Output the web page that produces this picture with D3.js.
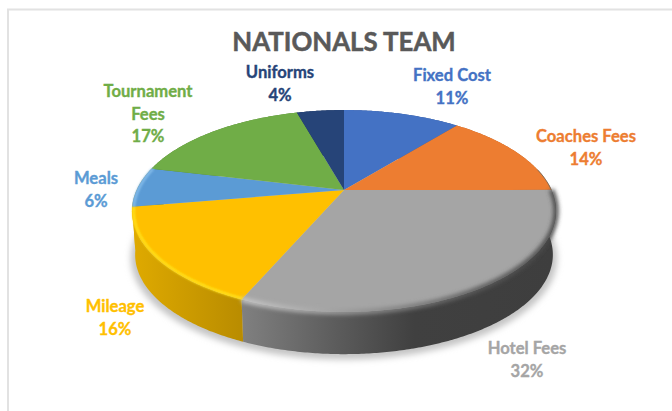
<!DOCTYPE html>
<html>
<head>
<meta charset="utf-8">
<script src="https://cdnjs.cloudflare.com/ajax/libs/d3/7.8.5/d3.min.js"></script>
<style>
  html, body { margin: 0; padding: 0; background: #fff; }
  svg { display: block; }
  text { font-family: Lato, "Open Sans", sans-serif; font-weight: 700; text-anchor: middle; }
</style>
</head>
<body>
<script>
const title = "NATIONALS TEAM"
const categories = ["Fixed Cost", "Coaches Fees", "Hotel Fees", "Mileage", "Meals", "Tournament Fees", "Uniforms"]
const shares = [10.9, 14.1, 31.6, 15.8, 6.4, 16.9, 4.4]
const colors = ["#4472C4", "#ED7D31", "#A5A5A5", "#FFC000", "#5B9BD5", "#70AD47", "#264478"]

const width = 672
const height = 411

const svg = d3.select("body").append("svg")
  .attr("width", width)
  .attr("height", height)

const defs = svg.append("defs")

defs.append("filter").attr("id", "shadow")
  .attr("x", "-10%").attr("y", "-10%").attr("width", "120%").attr("height", "120%")
  .append("feGaussianBlur").attr("stdDeviation", 3)

defs.append("filter").attr("id", "soft")
  .attr("x", "-5%").attr("y", "-5%").attr("width", "110%").attr("height", "110%")
  .append("feGaussianBlur").attr("stdDeviation", 1.3)

defs.append("filter").attr("id", "softer")
  .attr("filterUnits", "userSpaceOnUse")
  .attr("x", 0).attr("y", 0).attr("width", width).attr("height", height)
  .append("feGaussianBlur").attr("stdDeviation", 2)

function gradient(id, x1, x2, stops) {
  const g = defs.append("linearGradient")
    .attr("id", id)
    .attr("gradientUnits", "userSpaceOnUse")
    .attr("x1", x1).attr("x2", x2).attr("y1", 0).attr("y2", 0)
  stops.forEach(s => g.append("stop").attr("offset", s[0]).attr("stop-color", s[1]))
}

// side wall shading
gradient("wallYellow", 132, 242, [[0, "#dfaa00"], [1, "#b98c00"]])
gradient("wallGrey", 242, 555, [[0, "#808080"], [0.3, "#5c5c5c"], [0.55, "#404040"], [1, "#3e3e3e"]])
// rim highlight on the top face
gradient("rimGrey", 242, 555, [[0, "#c8c8c8"], [0.25, "#a8a8a8"], [0.5, "#808080"], [0.75, "#5a5a5a"], [1, "#484848"]])

// meals is barely visible on the wall, the reference shows yellow there
const wallFill = {"Mileage": "url(#wallYellow)", "Meals": "url(#wallYellow)", "Hotel Fees": "url(#wallGrey)"}

// the pie is a tilted disc: a circle seen in perspective, so the apex sits above the ellipse centre
const cx = 344, cy = 190
const rimX = 207.4, rimY = 96.6, tilt = 0.208
const wallDrop = 44, wallScale = 0.985

const xPos = d3.scaleLinear().domain([-1, 1]).range([cx - rimX, cx + rimX])
const yPos = d3.scaleLinear().domain([-1, 1]).range([cy + rimY, cy - rimY])

function project(angle, s = 1, drop = 0) {
  const u = Math.sin(angle) * s
  const v = Math.cos(angle) * s
  const den = 1 + tilt * Math.cos(angle)
  return [xPos(u / den), yPos(v / den) + drop]
}

function arcPoints(a0, a1, s, drop) {
  const n = Math.max(2, Math.ceil((a1 - a0) / 0.01))
  return d3.range(n + 1).map(i => project(a0 + (a1 - a0) * i / n, s, drop))
}

const line = d3.line()
const pie = d3.pie().sort(null).value(d => d.share)
const slices = pie(categories.map((c, i) => ({name: c, share: shares[i], color: colors[i]})))

// shadow under the base
svg.append("path")
  .attr("d", line(arcPoints(0, 2 * Math.PI, 1.005, wallDrop + 3)) + "Z")
  .attr("fill", "#c4c4c4")
  .attr("filter", "url(#shadow)")

// side walls
svg.selectAll(".wall")
  .data(slices)
  .enter()
  .append("path")
    .attr("class", "wall")
    .attr("fill", d => wallFill[d.data.name] || d3.color(d.data.color).darker(0.8))
    .attr("d", d => line(arcPoints(d.startAngle, d.endAngle, 1, 0)
      .concat(arcPoints(d.startAngle, d.endAngle, wallScale, wallDrop).reverse())) + "Z")

// top faces
svg.selectAll(".top")
  .data(slices)
  .enter()
  .append("path")
    .attr("class", "top")
    .attr("fill", d => d.data.color)
    .attr("d", d => line([[cx, cy]].concat(arcPoints(d.startAngle, d.endAngle, 1, 0))) + "Z")

// bevel along the front of the rim
const bevel = [
  {name: "Hotel Fees", stroke: "url(#rimGrey)", w: 5, s: 1, blur: "softer"},
  {name: "Mileage", stroke: "#FFE21A", w: 2.5, s: 0.992, blur: "soft"},
  {name: "Meals", stroke: "#85BDEB", w: 2.5, s: 0.992, blur: "soft"}
]
bevel.forEach(b => {
  const d = slices.find(s => s.data.name === b.name)
  svg.append("path")
    .attr("d", line(arcPoints(d.startAngle, d.endAngle, b.s, 0)))
    .attr("fill", "none")
    .attr("stroke", b.stroke)
    .attr("stroke-width", b.w)
    .attr("filter", "url(#" + b.blur + ")")
})

// thin dark edge where coaches fees meets the right side
const coaches = slices.find(s => s.data.name === "Coaches Fees")
svg.append("path")
  .attr("d", line(arcPoints(coaches.endAngle - 0.22, coaches.endAngle, 1, 0)))
  .attr("fill", "none")
  .attr("stroke", "#7a6a5a")
  .attr("stroke-width", 1)

// title and frame
svg.append("text")
  .attr("x", 344)
  .attr("y", 51)
  .attr("font-size", 25.8)
  .attr("fill", "#595959")
  .attr("stroke", "#595959")
  .attr("stroke-width", 0.5)
  .text(title)

svg.append("path")
  .attr("d", "M672,9.5H8V411")
  .attr("fill", "none")
  .attr("stroke", "#e2e2e2")
  .attr("stroke-width", 2)

// data labels
const labelLines = {"Tournament Fees": ["Tournament", "Fees"]}
const labelSpots = {
  "Fixed Cost": [452, 81],
  "Coaches Fees": [586, 142],
  "Hotel Fees": [527, 354],
  "Mileage": [115, 312],
  "Meals": [96, 184],
  "Tournament Fees": [148, 97],
  "Uniforms": [280, 78]
}

const labels = svg.selectAll(".label")
  .data(slices)
  .enter()
  .append("text")
    .attr("class", "label")
    .attr("font-size", 16.6)
    .attr("fill", d => d.data.color)
    .attr("stroke", d => d.data.color)
    .attr("stroke-width", 0.35)

labels.each(function(d) {
  const rows = (labelLines[d.data.name] || [d.data.name]).concat(Math.round(d.data.share) + "%")
  const spot = labelSpots[d.data.name]
  d3.select(this).selectAll("tspan")
    .data(rows)
    .enter()
    .append("tspan")
      .attr("x", spot[0])
      .attr("y", (r, i) => spot[1] + i * 22.5)
      .text(r => r)
})
</script>
</body>
</html>
